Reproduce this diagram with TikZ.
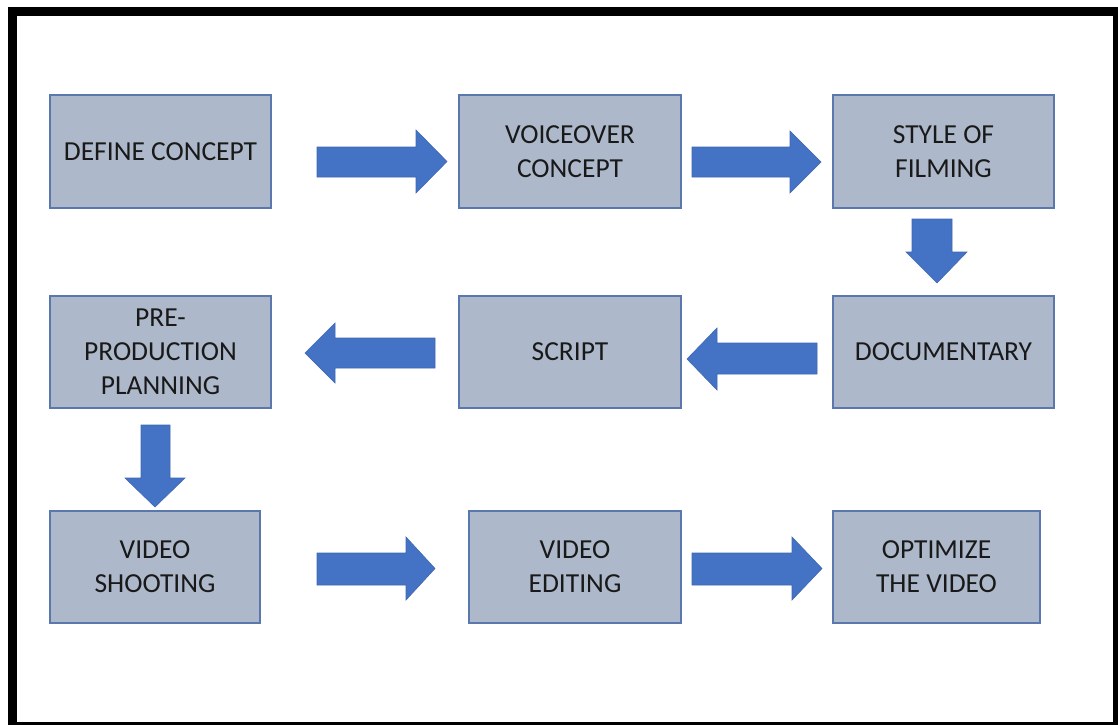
\documentclass[tikz,border=0pt]{standalone}
\usepackage{fontspec}
\setmainfont{Carlito}
\definecolor{boxfill}{HTML}{ADB9CA}
\definecolor{boxline}{HTML}{5A78AE}
\definecolor{arrfill}{HTML}{4472C4}
\definecolor{arrline}{HTML}{3F68B4}
\begin{document}
\begin{tikzpicture}[x=1pt,y=-1pt,
  stepbox/.style={draw=boxline,line width=1.1pt,fill=boxfill,align=center,
    inner sep=0pt,font=\fontsize{27.5}{34}\selectfont,text=black!90},
  blockarrow/.style={fill=arrfill,draw=arrline,line width=0.6pt,line join=miter}]
\useasboundingbox (0,0) rectangle (1118,724);
\clip (0,0) rectangle (1118,724);
\fill[white] (0,0) rectangle (1118,724);
% frame
\draw[line width=9pt] (12,11.5) rectangle (1117.5,726.5);
% boxes
\node[stepbox,minimum width=221pt,minimum height=113pt] (define) at (160.5,151.5) {DEFINE CONCEPT};
\node[stepbox,minimum width=222pt,minimum height=113pt] (voice) at (570,151.5) {VOICEOVER\\CONCEPT};
\node[stepbox,minimum width=221pt,minimum height=113pt] (style) at (943.5,151.5) {STYLE OF\\FILMING};
\node[stepbox,minimum width=221pt,minimum height=112pt] (pre) at (160.5,352) {PRE-\\PRODUCTION\\PLANNING};
\node[stepbox,minimum width=222pt,minimum height=112pt] (script) at (570,352) {SCRIPT};
\node[stepbox,minimum width=221pt,minimum height=112pt] (doc) at (943.5,352) {DOCUMENTARY};
\node[stepbox,minimum width=210pt,minimum height=112pt] (shoot) at (155,567) {VIDEO\\SHOOTING};
\node[stepbox,minimum width=212pt,minimum height=112pt] (edit) at (575,567) {VIDEO\\EDITING};
\node[stepbox,minimum width=207pt,minimum height=112pt] (opt) at (936.5,567) {OPTIMIZE\\THE VIDEO};
% block arrows
\draw[blockarrow] (317,147)--(416,147)--(416,130)--(447,161.5)--(416,193)--(416,177)--(317,177)--cycle;
\draw[blockarrow] (692,147)--(790,147)--(790,131)--(821,162)--(790,193)--(790,177)--(692,177)--cycle;
\draw[blockarrow] (912,219)--(952,219)--(952,252)--(967,252)--(937,283)--(906,252)--(912,252)--cycle;
\draw[blockarrow] (435,338)--(335,338)--(335,323)--(305,353)--(335,383)--(335,368)--(435,368)--cycle;
\draw[blockarrow] (817,343)--(717,343)--(717,328)--(687,359)--(717,390)--(717,374)--(817,374)--cycle;
\draw[blockarrow] (141,425)--(170,425)--(170,478)--(185,478)--(155,507)--(125,478)--(141,478)--cycle;
\draw[blockarrow] (317,553)--(406,553)--(406,537)--(435,568.5)--(406,600)--(406,585)--(317,585)--cycle;
\draw[blockarrow] (692,553)--(792,553)--(792,537)--(822,568.5)--(792,600)--(792,585)--(692,585)--cycle;
\end{tikzpicture}
\end{document}
